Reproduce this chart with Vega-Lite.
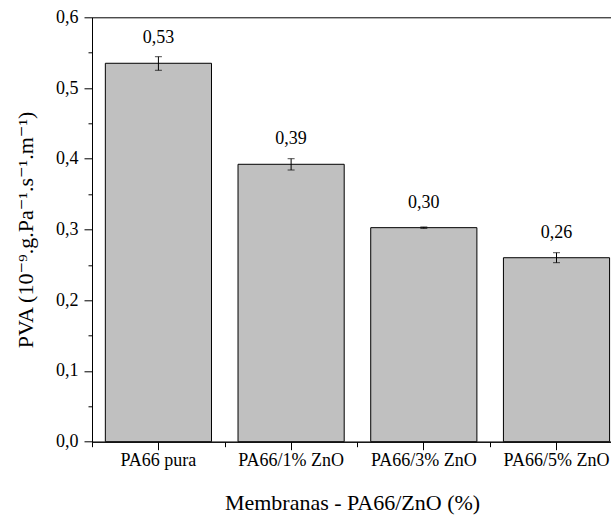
{
  "$schema": "https://vega.github.io/schema/vega-lite/v6.json",
  "width": 520,
  "height": 424.4,
  "autosize": "none",
  "padding": {"left": 92, "top": 17.3, "right": 0, "bottom": 75.3},
  "background": "white",
  "config": {
    "view": {"stroke": "black", "strokeWidth": 1},
    "font": "Times New Roman, Liberation Serif, DejaVu Serif, serif",
    "axis": {
      "grid": false,
      "domainColor": "black",
      "domainWidth": 1,
      "tickColor": "black",
      "tickWidth": 1,
      "labelColor": "black",
      "titleColor": "black",
      "labelFont": "Times New Roman, Liberation Serif, DejaVu Serif, serif",
      "titleFont": "Times New Roman, Liberation Serif, DejaVu Serif, serif",
      "titleFontWeight": "normal",
      "labelFontSize": 18,
      "titleFontSize": 22
    }
  },
  "data": {
    "values": [
      {"membrana": "PA66 pura", "pva": 0.535, "lo": 0.5251, "hi": 0.5443, "label": "0,53"},
      {"membrana": "PA66/1% ZnO", "pva": 0.3922, "lo": 0.3841, "hi": 0.4001, "label": "0,39"},
      {"membrana": "PA66/3% ZnO", "pva": 0.3026, "lo": 0.3016, "hi": 0.3036, "label": "0,30"},
      {"membrana": "PA66/5% ZnO", "pva": 0.2601, "lo": 0.2531, "hi": 0.2672, "label": "0,26"}
    ]
  },
  "resolve": {"axis": {"x": "independent", "y": "independent"}},
  "layer": [
    {
      "mark": {"type": "bar", "fill": "#c0c0c0", "stroke": "black", "strokeWidth": 1},
      "encoding": {
        "x": {
          "field": "membrana", "type": "nominal", "sort": null,
          "scale": {"paddingInner": 0.2, "paddingOuter": 0.0593, "align": 0.847},
          "axis": {
            "orient": "bottom", "labelAngle": 0, "title": "Membranas - PA66/ZnO (%)",
            "tickSize": 8, "labelPadding": 2, "titlePadding": 23, "labelOverlap": false
          }
        },
        "y": {
          "field": "pva", "type": "quantitative",
          "scale": {"domain": [0, 0.6], "nice": false, "zero": true},
          "axis": {
            "orient": "left",
            "values": [0, 0.1, 0.2, 0.3, 0.4, 0.5, 0.6],
            "labelExpr": "replace(format(datum.value, '.1f'), '.', ',')",
            "title": "PVA (10⁻⁹.g.Pa⁻¹.s⁻¹.m⁻¹)",
            "tickSize": 8, "labelPadding": 6, "titlePadding": 18, "labelOverlap": false
          }
        }
      }
    },
    {
      "mark": {"type": "rule", "color": "black", "strokeWidth": 1},
      "encoding": {
        "x": {"field": "membrana", "type": "nominal", "sort": null, "axis": null},
        "y": {"field": "lo", "type": "quantitative", "axis": null},
        "y2": {"field": "hi"}
      }
    },
    {
      "mark": {"type": "tick", "color": "black", "size": 7, "thickness": 1, "orient": "horizontal"},
      "encoding": {
        "x": {"field": "membrana", "type": "nominal", "sort": null, "axis": null},
        "y": {"field": "hi", "type": "quantitative", "axis": null}
      }
    },
    {
      "mark": {"type": "tick", "color": "black", "size": 7, "thickness": 1, "orient": "horizontal"},
      "encoding": {
        "x": {"field": "membrana", "type": "nominal", "sort": null, "axis": null},
        "y": {"field": "lo", "type": "quantitative", "axis": null}
      }
    },
    {
      "mark": {"type": "text", "dy": -25, "baseline": "middle", "fontSize": 18, "font": "Times New Roman, Liberation Serif, DejaVu Serif, serif", "color": "black"},
      "encoding": {
        "x": {
          "field": "membrana", "type": "nominal", "sort": null,
          "axis": {"orient": "bottom", "labels": false, "domain": false, "title": null, "tickSize": 5, "tickOffset": -66.35}
        },
        "y": {
          "field": "pva", "type": "quantitative",
          "axis": {"orient": "left", "values": [0.05, 0.15, 0.25, 0.35, 0.45, 0.55], "labels": false, "domain": false, "title": null, "tickSize": 4}
        },
        "text": {"field": "label", "type": "nominal"}
      }
    }
  ]
}
